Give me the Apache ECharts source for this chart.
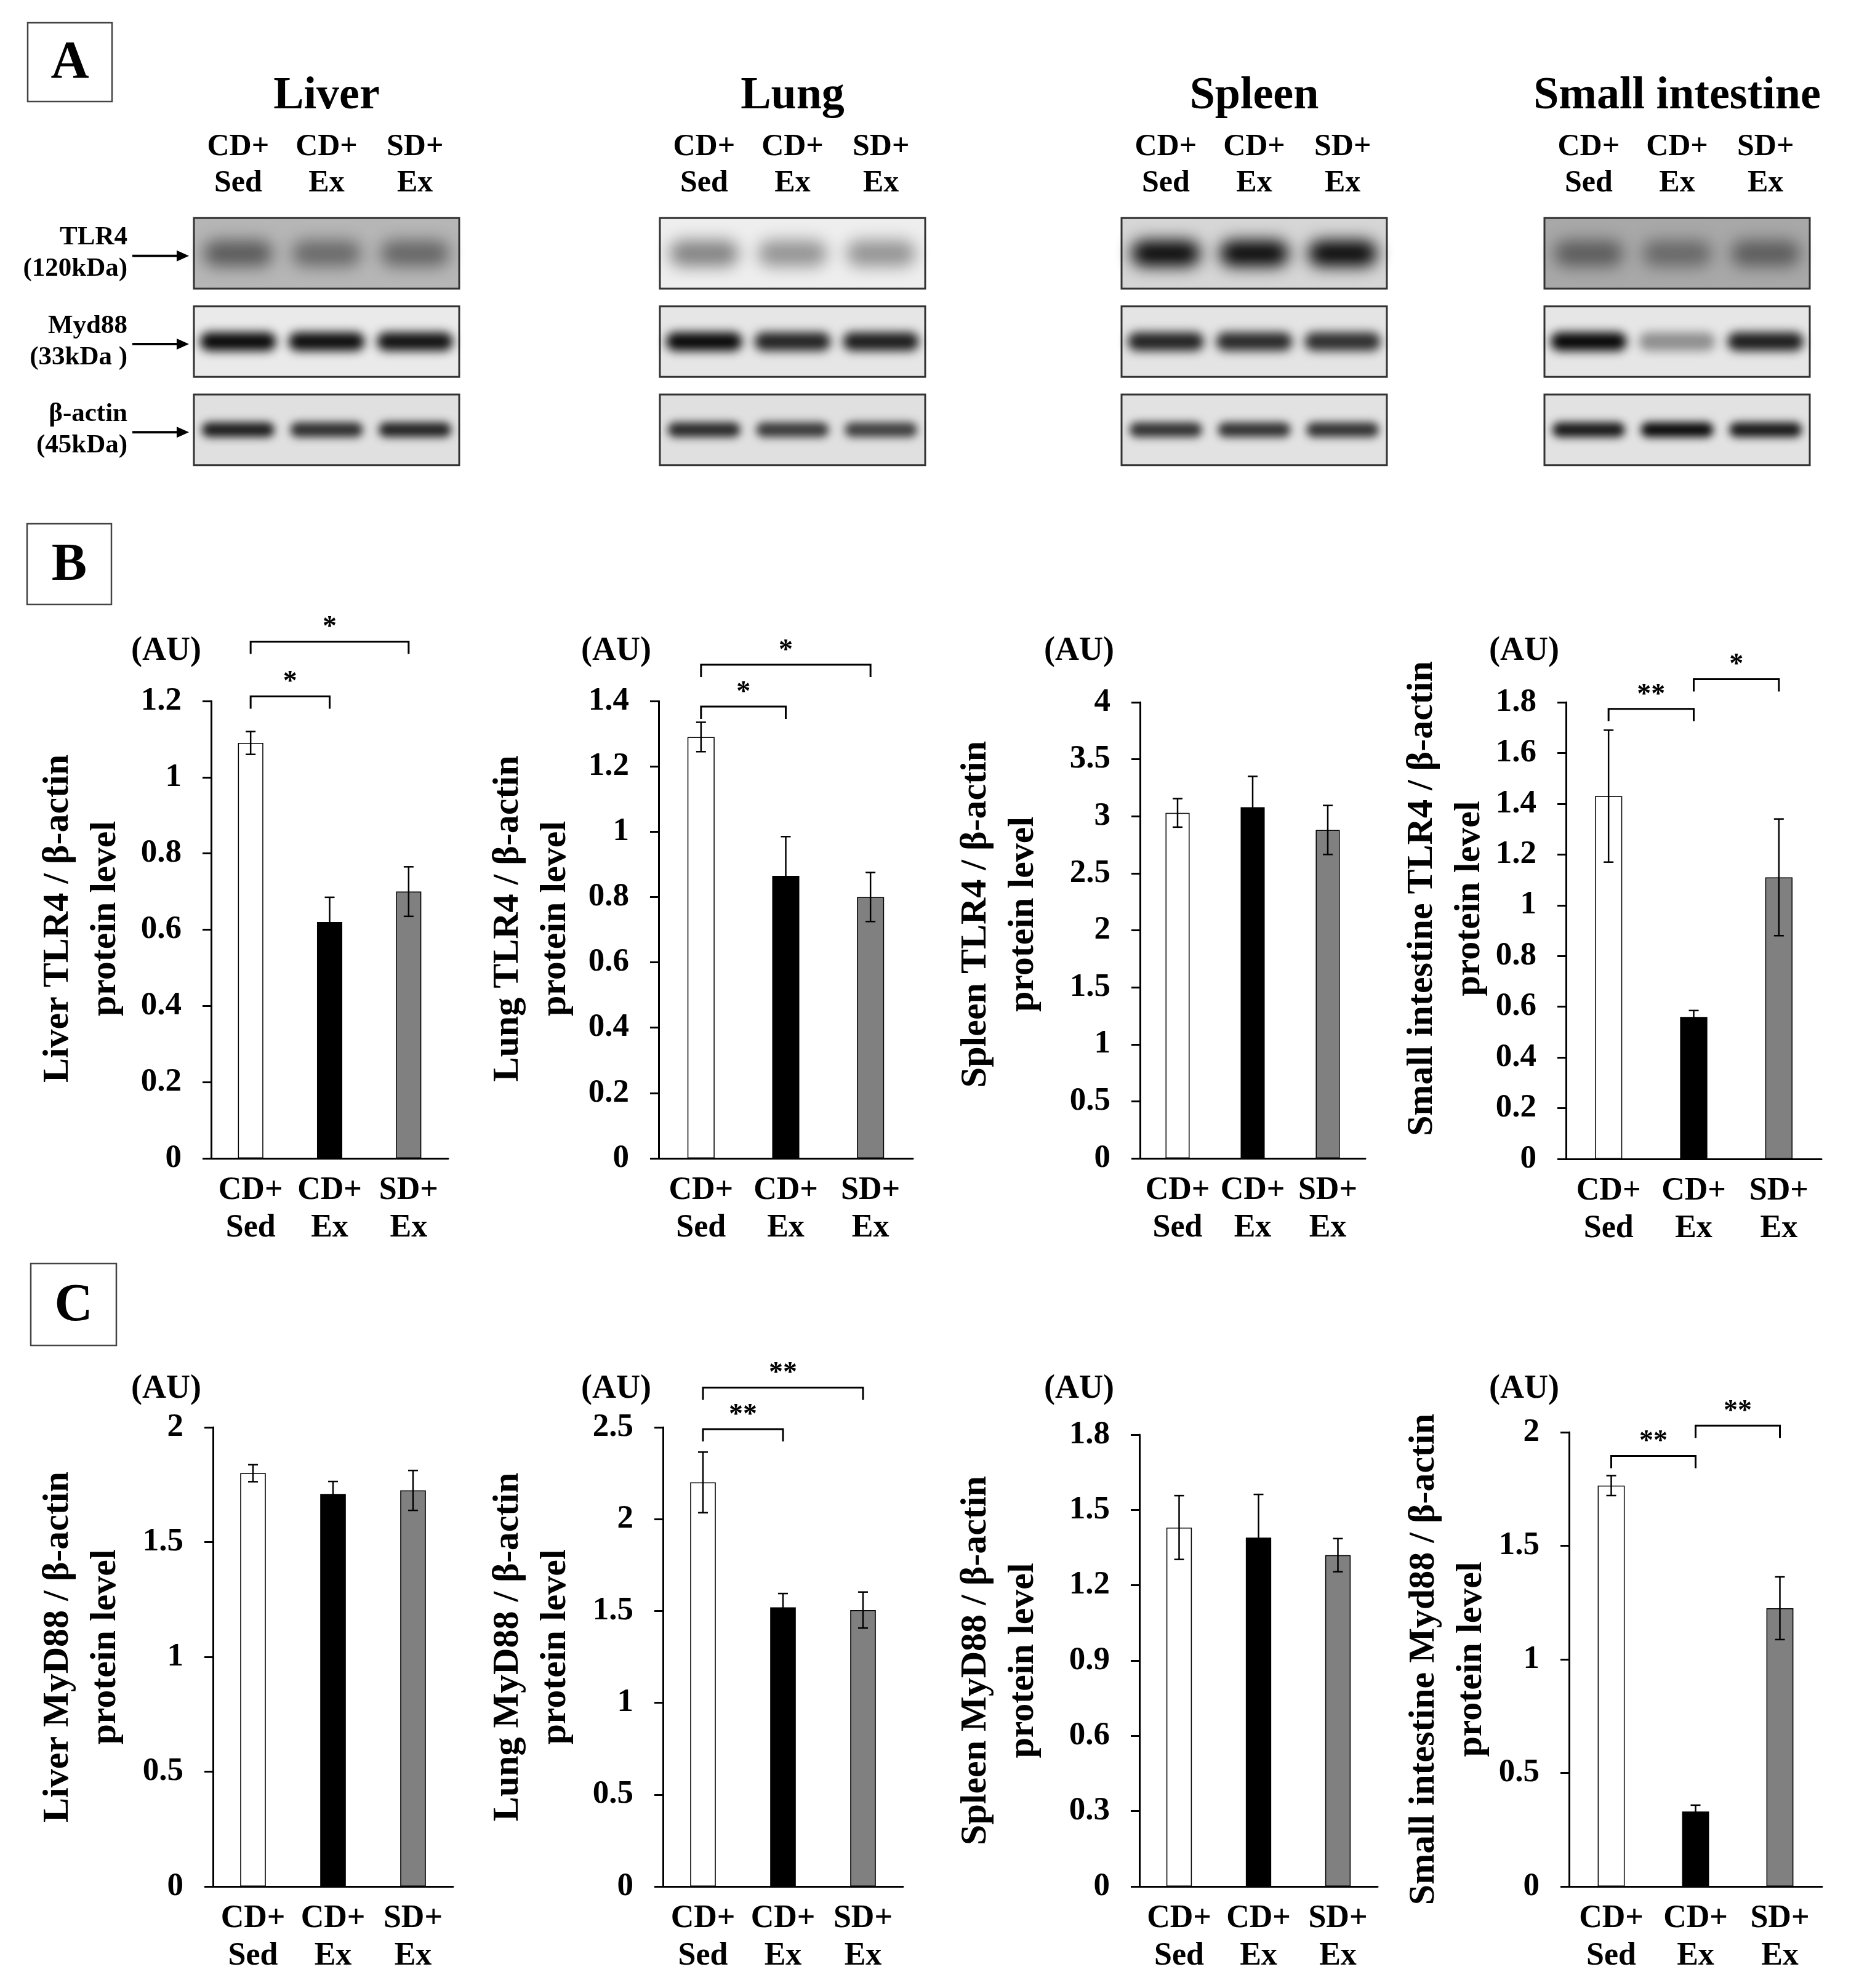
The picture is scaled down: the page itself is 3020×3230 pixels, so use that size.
<!DOCTYPE html>
<html>
<head>
<meta charset="utf-8">
<script src="https://cdn.jsdelivr.net/npm/echarts@6/dist/echarts.min.js"></script>
<style>
  html, body { margin: 0; padding: 0; background: #fff; }
  #chart { width: 3020px; height: 3230px; }
</style>
</head>
<body>
<div id="chart"></div>
<script>
// ---- data ----
const groups = ['CD+\nSed', 'CD+\nEx', 'SD+\nEx'];
const barColors = ['#ffffff', '#000000', '#808080'];

// B: TLR4 / beta-actin (mean, SE)
const liverTlr4 = [1.09, 0.62, 0.70];
const liverTlr4Se = [0.03, 0.065, 0.065];
const lungTlr4 = [1.29, 0.865, 0.80];
const lungTlr4Se = [0.045, 0.12, 0.075];
const spleenTlr4 = [3.03, 3.08, 2.88];
const spleenTlr4Se = [0.125, 0.27, 0.215];
const siTlr4 = [1.43, 0.56, 1.11];
const siTlr4Se = [0.26, 0.025, 0.23];

// C: MyD88 / beta-actin (mean, SE)
const liverMyd88 = [1.80, 1.71, 1.725];
const liverMyd88Se = [0.037, 0.054, 0.087];
const lungMyd88 = [2.20, 1.52, 1.505];
const lungMyd88Se = [0.165, 0.075, 0.098];
const spleenMyd88 = [1.43, 1.39, 1.32];
const spleenMyd88Se = [0.127, 0.172, 0.066];
const siMyd88 = [1.765, 0.33, 1.225];
const siMyd88Se = [0.044, 0.028, 0.138];

// significance brackets: [from group, to group, height (AU), mark]
const liverTlr4Sig = [[0, 1, 1.212, '*'], [0, 2, 1.356, '*']];
const lungTlr4Sig = [[0, 1, 1.383, '*'], [0, 2, 1.511, '*']];
const siTlr4Sig = [[0, 1, 1.774, '**'], [1, 2, 1.891, '*']];
const lungMyd88Sig = [[0, 1, 2.49, '**'], [0, 2, 2.716, '**']];
const siMyd88Sig = [[0, 1, 1.896, '**'], [1, 2, 2.029, '**']];

// A: western blots
const tissues = ['Liver', 'Lung', 'Spleen', 'Small intestine'];
const blotRows = ['TLR4', 'Myd88', 'β-actin'];
const blotKDa = ['(120kDa)', '(33kDa )', '(45kDa)'];
// band darkness per row (TLR4, Myd88, beta-actin) x lane
const liverBands = [[0.5, 0.42, 0.44], [0.97, 0.95, 0.93], [0.88, 0.8, 0.85]];
const lungBands = [[0.45, 0.38, 0.38], [0.97, 0.85, 0.88], [0.82, 0.75, 0.72]];
const spleenBands = [[0.97, 0.97, 0.97], [0.85, 0.82, 0.8], [0.78, 0.78, 0.78]];
const siBands = [[0.45, 0.38, 0.45], [0.98, 0.38, 0.88], [0.9, 0.97, 0.9]];
// membrane grey level per row (0-255)
const liverBg = [182, 234, 224];
const lungBg = [238, 230, 224];
const spleenBg = [214, 228, 226];
const siBg = [168, 230, 226];

// ---- layout ----
const FONT = 'Liberation Serif';
const blotLeft = [315, 1072, 1822, 2509];
const blotBands = [liverBands, lungBands, spleenBands, siBands];
const blotBgs = [liverBg, lungBg, spleenBg, siBg];
const bandWidth = [0.78, 0.86, 0.82];
const bandHeight = [42, 30, 24];
const bandBlur = [26, 16, 14];

const charts = [
  { v: liverTlr4, e: liverTlr4Se, sig: liverTlr4Sig, max: 1.2, step: 0.2, name: 'Liver TLR4 / β-actin', left: 343, top: 1139, width: 385, height: 743, gap: 133, shift: 18, au: 327, auY: 1058 },
  { v: lungTlr4, e: lungTlr4Se, sig: lungTlr4Sig, max: 1.4, step: 0.2, name: 'Lung TLR4 / β-actin', left: 1070, top: 1139, width: 413, height: 743, gap: 129, shift: 18, au: 1058, auY: 1058 },
  { v: spleenTlr4, e: spleenTlr4Se, sig: [], max: 4, step: 0.5, name: 'Spleen TLR4 / β-actin', left: 1852, top: 1141, width: 366, height: 741, gap: 151, shift: 26, au: 1810, auY: 1058 },
  { v: siTlr4, e: siTlr4Se, sig: siTlr4Sig, max: 1.8, step: 0.2, name: 'Small intestine TLR4 / β-actin', left: 2544, top: 1141, width: 415, height: 742, gap: 117, shift: 52, au: 2533, auY: 1058 },
  { v: liverMyd88, e: liverMyd88Se, sig: [], max: 2, step: 0.5, name: 'Liver MyD88 / β-actin', left: 346, top: 2319, width: 390, height: 746, gap: 136, shift: 16, au: 327, auY: 2257 },
  { v: lungMyd88, e: lungMyd88Se, sig: lungMyd88Sig, max: 2.5, step: 0.5, name: 'Lung MyD88 / β-actin', left: 1077, top: 2319, width: 390, height: 746, gap: 136, shift: 16, au: 1058, auY: 2257 },
  { v: spleenMyd88, e: spleenMyd88Se, sig: [], max: 1.8, step: 0.3, name: 'Spleen MyD88 / β-actin', left: 1851, top: 2331, width: 387, height: 734, gap: 150, shift: 0, au: 1810, auY: 2257 },
  { v: siMyd88, e: siMyd88Se, sig: siMyd88Sig, max: 2, step: 0.5, name: 'Small intestine Myd88 / β-actin', left: 2549, top: 2327, width: 411, height: 738, gap: 120, shift: 0, au: 2533, auY: 2257 }
];

const txt = { fontFamily: FONT, fontWeight: 'bold', color: '#000' };

function renderErr(params, api) {
  const x = api.value(0), m = api.value(1), s = api.value(2);
  const hi = api.coord([x, m + s]);
  const lo = api.coord([x, m - s]);
  const cap = 8;
  const st = { stroke: '#000', lineWidth: 2.5 };
  return {
    type: 'group',
    children: [
      { type: 'line', shape: { x1: hi[0], y1: hi[1], x2: lo[0], y2: lo[1] }, style: st },
      { type: 'line', shape: { x1: hi[0] - cap, y1: hi[1], x2: hi[0] + cap, y2: hi[1] }, style: st },
      { type: 'line', shape: { x1: lo[0] - cap, y1: lo[1], x2: lo[0] + cap, y2: lo[1] }, style: st }
    ]
  };
}

function bracketRenderer(sig) {
  return function (params, api) {
    const a = api.coord([api.value(0), api.value(2)]);
    const b = api.coord([api.value(1), api.value(2)]);
    const drop = 20;
    return {
      type: 'group',
      children: [
        { type: 'polyline', shape: { points: [[a[0], a[1] + drop], [a[0], a[1]], [b[0], b[1]], [b[0], b[1] + drop]] },
          style: { stroke: '#000', lineWidth: 3, fill: null } },
        { type: 'text', x: (a[0] + b[0]) / 2, y: a[1] - 22,
          style: { text: sig[params.dataIndex][3], fontFamily: FONT, fontSize: 46, fontWeight: 'bold', fill: '#000', align: 'center', verticalAlign: 'middle' } }
      ]
    };
  };
}

function renderFrame(params, api) {
  const cs = params.coordSys;
  const c = api.coord([0, api.value(1)]);
  const h = api.size([0, 1])[1] * 0.8;
  const g = api.value(2);
  return {
    type: 'rect',
    shape: { x: cs.x, y: c[1] - h / 2, width: cs.width, height: h },
    style: { fill: 'rgb(' + g + ',' + g + ',' + g + ')', stroke: '#333', lineWidth: 3 }
  };
}

// soft band: the rect is drawn off-canvas and only its blurred shadow lands on the blot
function renderBand(params, api) {
  const row = api.value(1);
  const d = api.value(2);
  const c = api.coord([api.value(0), row]);
  const laneW = api.size([1, 0])[0];
  const w = laneW * bandWidth[row];
  const h = bandHeight[row];
  const off = 6000;
  return {
    type: 'rect',
    shape: { x: c[0] - w / 2 - off, y: c[1] - h / 2, width: w, height: h, r: h / 2 },
    style: { fill: '#000', shadowBlur: bandBlur[row], shadowColor: 'rgba(0,0,0,' + d + ')', shadowOffsetX: off, shadowOffsetY: 0 }
  };
}

function renderArrow(params, api) {
  const cs = params.coordSys;
  const y = api.coord([0, api.value(1)])[1] + 4;
  const x0 = cs.x - 100, x1 = cs.x - 8;
  return {
    type: 'group',
    children: [
      { type: 'line', shape: { x1: x0, y1: y, x2: x1 - 14, y2: y }, style: { stroke: '#000', lineWidth: 4 } },
      { type: 'polygon', shape: { points: [[x1, y], [x1 - 20, y - 9], [x1 - 20, y + 9]] }, style: { fill: '#000' } }
    ]
  };
}

const grid = [], xAxis = [], yAxis = [], series = [];

// panel A blots
tissues.forEach((t, k) => {
  grid.push({ left: blotLeft[k], top: 340, width: 431, height: 430 });
  xAxis.push({
    gridIndex: k, type: 'category', data: groups, position: 'top',
    axisLine: { show: false }, axisTick: { show: false },
    axisLabel: Object.assign({ fontSize: 50, lineHeight: 59, margin: 12 }, txt),
    name: t, nameLocation: 'middle', nameGap: 146,
    nameTextStyle: Object.assign({ fontSize: 74 }, txt)
  });
  yAxis.push({
    gridIndex: k, type: 'category', data: blotRows, inverse: true,
    axisLine: { show: false }, axisTick: { show: false }, splitLine: { show: false },
    axisLabel: {
      show: k === 0, margin: 108, align: 'right',
      formatter: (v, i) => '{a|' + v + '}\n{a|' + blotKDa[i] + '}',
      rich: { a: Object.assign({ fontSize: 43, lineHeight: 51, align: 'right' }, txt) }
    }
  });
  series.push({
    type: 'custom', xAxisIndex: k, yAxisIndex: k, renderItem: renderFrame, z: 1,
    data: blotBgs[k].map((g, r) => [0, r, g])
  });
  const bands = [];
  blotBands[k].forEach((lanes, r) => lanes.forEach((d, l) => bands.push([l, r, d])));
  series.push({ type: 'custom', xAxisIndex: k, yAxisIndex: k, renderItem: renderBand, z: 2, data: bands });
  if (k === 0) {
    series.push({ type: 'custom', xAxisIndex: 0, yAxisIndex: 0, renderItem: renderArrow, z: 2, data: blotRows.map((r, i) => [0, i]) });
  }
});

// panels B and C bar charts
const graphics = [];
charts.forEach((c, n) => {
  const gi = tissues.length + n;
  grid.push({ left: c.left, top: c.top, width: c.width, height: c.height });
  xAxis.push({
    gridIndex: gi, type: 'category', data: groups,
    axisLine: { lineStyle: { color: '#000', width: 3 } },
    axisTick: { show: false },
    axisLabel: Object.assign({ fontSize: 52, lineHeight: 61, margin: 22, interval: 0 }, txt)
  });
  yAxis.push({
    gridIndex: gi, type: 'value', min: 0, max: c.max, interval: c.step,
    axisLine: { show: true, lineStyle: { color: '#000', width: 3 } },
    axisTick: { show: true, inside: false, length: 14, lineStyle: { color: '#000', width: 3 } },
    splitLine: { show: false },
    axisLabel: Object.assign({ fontSize: 53, margin: 48 }, txt),
    name: c.name + '\nprotein level', nameLocation: 'middle', nameRotate: 90, nameGap: c.gap,
    nameTextStyle: Object.assign({ fontSize: 60, lineHeight: 77, padding: [0, 0, 0, c.shift * 2] }, txt)
  });
  series.push({
    type: 'bar', xAxisIndex: gi, yAxisIndex: gi, barWidth: '32%',
    itemStyle: { borderColor: '#000', borderWidth: 1.5 },
    data: c.v.map((v, i) => ({ value: v, itemStyle: { color: barColors[i] } }))
  });
  series.push({
    type: 'custom', xAxisIndex: gi, yAxisIndex: gi, renderItem: renderErr, z: 3,
    data: c.v.map((v, i) => [i, v, c.e[i]])
  });
  if (c.sig.length) {
    series.push({
      type: 'custom', xAxisIndex: gi, yAxisIndex: gi, renderItem: bracketRenderer(c.sig), z: 3,
      data: c.sig.map(s => [s[0], s[1], s[2]])
    });
  }
  graphics.push({
    type: 'text', x: c.au, y: c.auY,
    style: { text: '(AU)', fontFamily: FONT, fontWeight: 'bold', fontSize: 54, align: 'right', verticalAlign: 'middle', fill: '#000' }
  });
});

// panel letters
[['A', 45, 37, 137, 128], ['B', 44, 851, 137, 131], ['C', 50, 2053, 139, 133]].forEach(p => {
  graphics.push({ type: 'rect', shape: { x: p[1], y: p[2], width: p[3], height: p[4] }, style: { fill: '#fff', stroke: '#444', lineWidth: 2.5 } });
  graphics.push({ type: 'text', x: p[1] + p[3] / 2, y: p[2] + p[4] / 2 + 3,
    style: { text: p[0], fontFamily: FONT, fontWeight: 'bold', fontSize: 86, fill: '#000', align: 'center', verticalAlign: 'middle' } });
});

const chart = echarts.init(document.getElementById('chart'), null, { renderer: 'canvas', devicePixelRatio: 1 });
chart.setOption({
  backgroundColor: '#fff',
  animation: false,
  grid, xAxis, yAxis, series,
  graphic: graphics
});
</script>
</body>
</html>
